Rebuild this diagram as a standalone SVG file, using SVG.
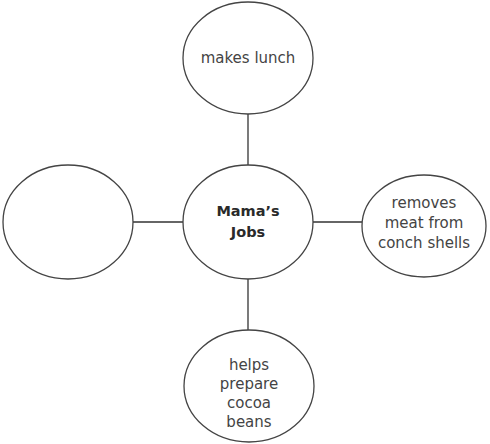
<svg xmlns="http://www.w3.org/2000/svg" width="490" height="444" viewBox="0 0 490 444">
<style>
.n{fill:#fff;stroke:#444;stroke-width:1.3}
.c{stroke:#333;stroke-width:1.3;fill:none}
.t{font-family:"DejaVu Sans",sans-serif;font-size:15px;fill:#444;text-anchor:middle;dominant-baseline:central}
.b{font-weight:bold;fill:#2a2a2a;font-size:14.5px}
</style>
<rect width="490" height="444" fill="#fff"/>
<g id="connectors">
<line class="c" x1="248" y1="113" x2="248" y2="165"/>
<line class="c" x1="248" y1="279" x2="248" y2="330"/>
<line class="c" x1="133" y1="222" x2="183" y2="222"/>
<line class="c" x1="313" y1="222" x2="362" y2="222"/>
</g>
<g id="center">
<ellipse class="n" cx="248" cy="222" rx="65" ry="57"/>
<text class="t b" x="248" y="211">Mama’s</text>
<text class="t b" x="248" y="232">Jobs</text>
</g>
<g id="top">
<ellipse class="n" cx="248" cy="58" rx="65" ry="56"/>
<text class="t" x="248" y="58">makes lunch</text>
</g>
<g id="left">
<ellipse class="n" cx="68" cy="222" rx="65" ry="57"/>
</g>
<g id="right">
<ellipse class="n" cx="424" cy="226" rx="62" ry="51"/>
<text class="t" x="424" y="203">removes</text>
<text class="t" x="424" y="223">meat from</text>
<text class="t" x="424" y="243">conch shells</text>
</g>
<g id="bottom">
<ellipse class="n" cx="249" cy="386" rx="65" ry="56"/>
<text class="t" x="249" y="365">helps</text>
<text class="t" x="249" y="384">prepare</text>
<text class="t" x="249" y="403">cocoa</text>
<text class="t" x="249" y="422">beans</text>
</g>
</svg>
